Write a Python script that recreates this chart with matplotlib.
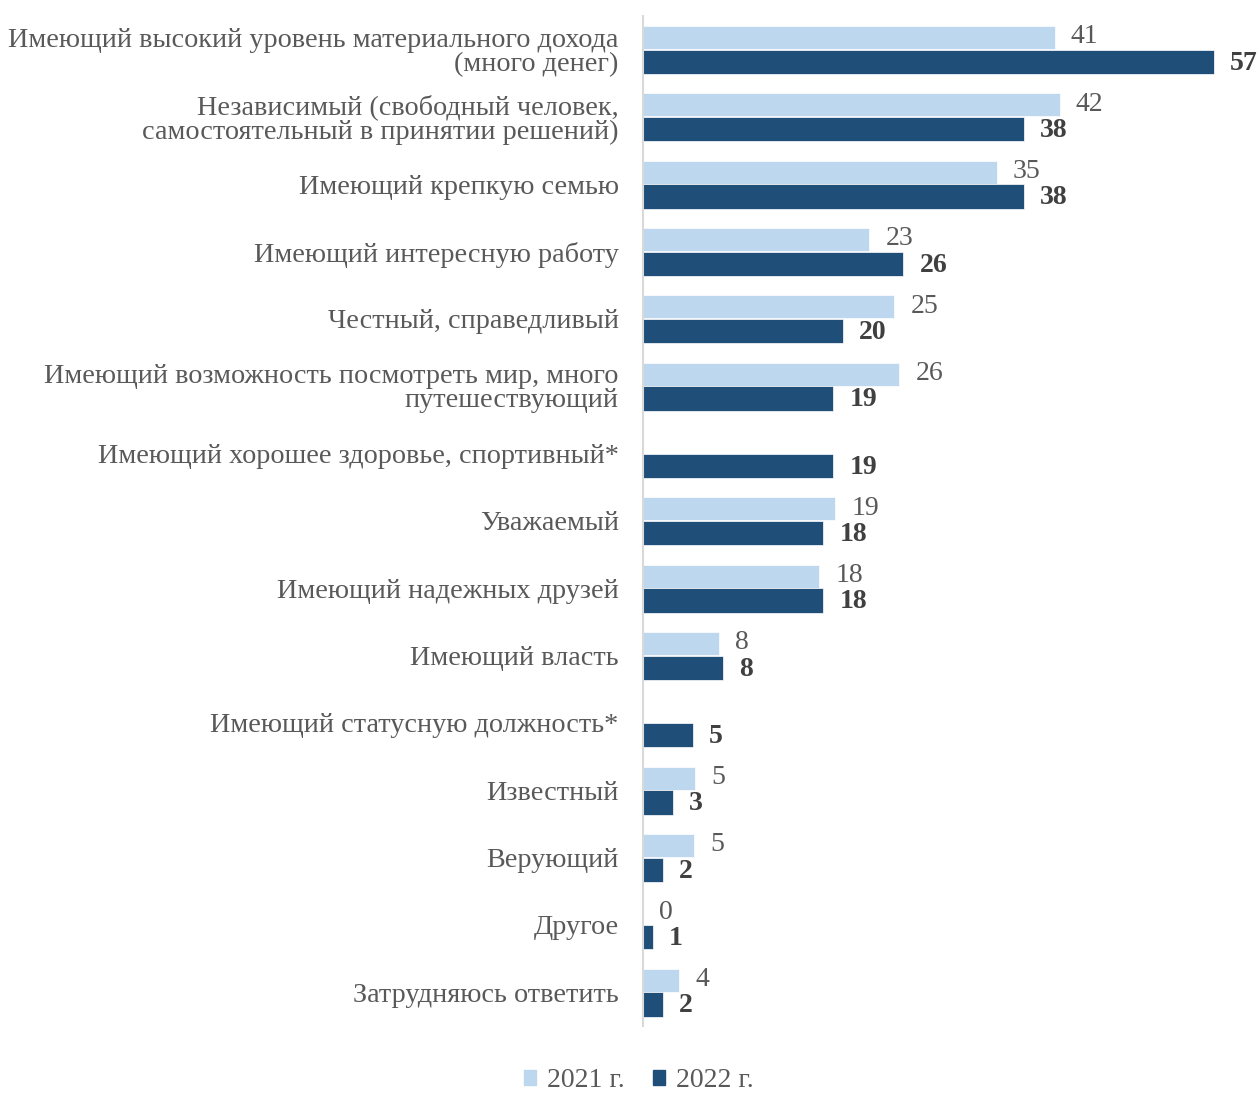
import matplotlib.pyplot as plt
from matplotlib.patches import Patch
import numpy as np

categories = [
    "Имеющий высокий уровень материального дохода\n(много денег)",
    "Независимый (свободный человек,\nсамостоятельный в принятии решений)",
    "Имеющий крепкую семью",
    "Имеющий интересную работу",
    "Честный, справедливый",
    "Имеющий возможность посмотреть мир, много\nпутешествующий",
    "Имеющий хорошее здоровье, спортивный*",
    "Уважаемый",
    "Имеющий надежных друзей",
    "Имеющий власть",
    "Имеющий статусную должность*",
    "Известный",
    "Верующий",
    "Другое",
    "Затрудняюсь ответить",
]
# bar lengths; labels are the printed integers
vals_2021 = [41.1, 41.6, 35.3, 22.6, 25.1, 25.6, np.nan, 19.2, 17.6, 7.6, np.nan, 5.2, 5.1, 0, 3.6]
labels_2021 = ["41", "42", "35", "23", "25", "26", "", "19", "18", "8", "", "5", "5", "0", "4"]
vals_2022 = [57, 38, 38, 26, 20, 19, 19, 18, 18, 8, 5, 3, 2, 1, 2]
labels_2022 = ["57", "38", "38", "26", "20", "19", "19", "18", "18", "8", "5", "3", "2", "1", "2"]
series_names = ["2021 г.", "2022 г."]

c21 = "#bdd7ee"
c22 = "#1f4e79"

plt.rcParams["font.family"] = ["Liberation Serif", "DejaVu Serif"]

W, H = 1260, 1094
fig = plt.figure(figsize=(W / 100, H / 100), dpi=100)
ax = fig.add_axes([643 / W, (H - 1026) / H, (W - 643) / W, (1026 - 16) / H])

y = np.arange(len(categories))
ax.barh(y - 0.18, vals_2021, height=0.34, color=c21, edgecolor="white", linewidth=0.5)
ax.barh(y + 0.18, vals_2022, height=0.36, color=c22, edgecolor="white", linewidth=0.5)

for i in range(len(categories)):
    if labels_2021[i]:
        ax.text(vals_2021[i] + 1.6, y[i] - 0.19, labels_2021[i], va="center", ha="left",
                fontsize=20, color="#595959")
    ax.text(vals_2022[i] + 1.6, y[i] + 0.2, labels_2022[i], va="center", ha="left",
            fontsize=20, color="#404040", fontweight="bold")

ax.set_xlim(0, 61.6)
ax.set_ylim(14.5, -0.5)
ax.set_yticks(y)
ax.set_yticklabels(categories, fontsize=20.3, color="#595959", ha="right")
for t in ax.get_yticklabels():
    t.set_linespacing(0.95)
ax.tick_params(axis="y", length=0, pad=17.5)
ax.set_xticks([])
for s in ["top", "right", "bottom"]:
    ax.spines[s].set_visible(False)
ax.spines["left"].set_color("#d9d9d9")
ax.spines["left"].set_linewidth(1.5)

handles = [Patch(color=c21), Patch(color=c22)]
fig.legend(handles, series_names, loc="center", bbox_to_anchor=(0.507, 0.012),
           ncol=2, frameon=False, fontsize=20, labelcolor="#595959",
           handlelength=0.45, handleheight=0.45, handletextpad=0.4, columnspacing=1.0)

fig.savefig("out.png", dpi=100)
